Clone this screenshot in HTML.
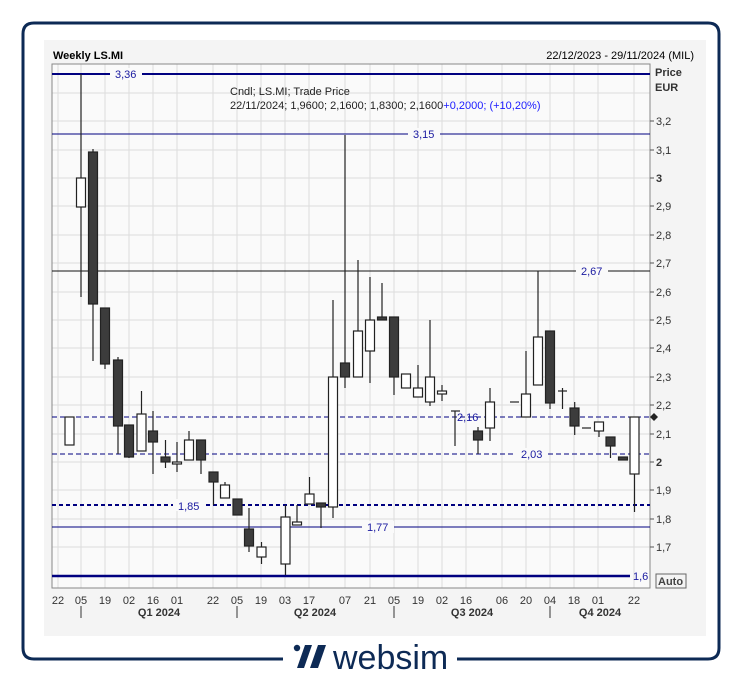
<!DOCTYPE html>
<html><head><meta charset="utf-8"><style>
html,body{margin:0;padding:0;background:#fff;}
svg{display:block;font-family:"Liberation Sans","DejaVu Sans",sans-serif;}
</style></head><body>
<svg width="742" height="681" viewBox="0 0 742 681" xmlns="http://www.w3.org/2000/svg">
<rect x="0" y="0" width="742" height="681" fill="#fff"/>
<!-- frame -->
<path d="M283 659 H34 Q23 659 23 648 V34 Q23 23 34 23 H708 Q719 23 719 34 V648 Q719 659 708 659 H457" fill="none" stroke="#0d2a55" stroke-width="3"/>
<!-- panel -->
<rect x="44" y="40" width="662" height="596" fill="#f4f4f4"/>
<rect x="52" y="64" width="598" height="524" fill="#fafafa"/>
<g stroke="#dcdcdc" stroke-width="1">
<line x1="52" y1="93" x2="650" y2="93"/><line x1="52" y1="121" x2="650" y2="121"/><line x1="52" y1="150" x2="650" y2="150"/><line x1="52" y1="178" x2="650" y2="178"/><line x1="52" y1="206" x2="650" y2="206"/><line x1="52" y1="235" x2="650" y2="235"/><line x1="52" y1="263" x2="650" y2="263"/><line x1="52" y1="292" x2="650" y2="292"/><line x1="52" y1="320" x2="650" y2="320"/><line x1="52" y1="348" x2="650" y2="348"/><line x1="52" y1="377" x2="650" y2="377"/><line x1="52" y1="405" x2="650" y2="405"/><line x1="52" y1="434" x2="650" y2="434"/><line x1="52" y1="462" x2="650" y2="462"/><line x1="52" y1="490" x2="650" y2="490"/><line x1="52" y1="519" x2="650" y2="519"/><line x1="52" y1="547" x2="650" y2="547"/>
<line x1="58" y1="64" x2="58" y2="588"/><line x1="81" y1="64" x2="81" y2="588"/><line x1="105" y1="64" x2="105" y2="588"/><line x1="129" y1="64" x2="129" y2="588"/><line x1="153" y1="64" x2="153" y2="588"/><line x1="177" y1="64" x2="177" y2="588"/><line x1="213" y1="64" x2="213" y2="588"/><line x1="237" y1="64" x2="237" y2="588"/><line x1="261" y1="64" x2="261" y2="588"/><line x1="285" y1="64" x2="285" y2="588"/><line x1="309" y1="64" x2="309" y2="588"/><line x1="345" y1="64" x2="345" y2="588"/><line x1="370" y1="64" x2="370" y2="588"/><line x1="394" y1="64" x2="394" y2="588"/><line x1="418" y1="64" x2="418" y2="588"/><line x1="442" y1="64" x2="442" y2="588"/><line x1="466" y1="64" x2="466" y2="588"/><line x1="502" y1="64" x2="502" y2="588"/><line x1="526" y1="64" x2="526" y2="588"/><line x1="550" y1="64" x2="550" y2="588"/><line x1="574" y1="64" x2="574" y2="588"/><line x1="598" y1="64" x2="598" y2="588"/><line x1="634" y1="64" x2="634" y2="588"/>
</g>
<rect x="52" y="64" width="598" height="524" fill="none" stroke="#888" stroke-width="1"/>
<!-- title -->
<text x="53" y="59" font-size="11" font-weight="bold" fill="#000">Weekly LS.MI</text>
<text x="694" y="59" font-size="11" fill="#000" text-anchor="end">22/12/2023 - 29/11/2024 (MIL)</text>
<text x="655" y="76" font-size="11" font-weight="bold" fill="#333">Price</text>
<text x="655" y="91" font-size="11" font-weight="bold" fill="#333">EUR</text>
<!-- y ticks -->
<g font-size="11" fill="#333" stroke="none">
<text x="656" y="125">3,2</text><text x="656" y="154">3,1</text><text x="656" y="182" font-weight="bold">3</text><text x="656" y="210">2,9</text><text x="656" y="239">2,8</text><text x="656" y="267">2,7</text><text x="656" y="296">2,6</text><text x="656" y="324">2,5</text><text x="656" y="352">2,4</text><text x="656" y="381">2,3</text><text x="656" y="409">2,2</text><text x="656" y="438">2,1</text><text x="656" y="466" font-weight="bold">2</text><text x="656" y="494">1,9</text><text x="656" y="523">1,8</text><text x="656" y="551">1,7</text>
</g>
<g stroke="#555"><line x1="650" y1="121" x2="654" y2="121"/><line x1="650" y1="150" x2="654" y2="150"/><line x1="650" y1="178" x2="654" y2="178"/><line x1="650" y1="206" x2="654" y2="206"/><line x1="650" y1="235" x2="654" y2="235"/><line x1="650" y1="263" x2="654" y2="263"/><line x1="650" y1="292" x2="654" y2="292"/><line x1="650" y1="320" x2="654" y2="320"/><line x1="650" y1="348" x2="654" y2="348"/><line x1="650" y1="377" x2="654" y2="377"/><line x1="650" y1="405" x2="654" y2="405"/><line x1="650" y1="434" x2="654" y2="434"/><line x1="650" y1="462" x2="654" y2="462"/><line x1="650" y1="490" x2="654" y2="490"/><line x1="650" y1="519" x2="654" y2="519"/><line x1="650" y1="547" x2="654" y2="547"/></g>
<rect x="656" y="574" width="30" height="14" fill="#f4f4f4" stroke="#666"/>
<text x="658" y="585" font-size="11" font-weight="bold" fill="#444">Auto</text>
<!-- x ticks -->
<g font-size="11" fill="#333" text-anchor="middle">
<text x="58" y="604">22</text><text x="81" y="604">05</text><text x="105" y="604">19</text><text x="129" y="604">02</text><text x="153" y="604">16</text><text x="177" y="604">01</text><text x="213" y="604">22</text><text x="237" y="604">05</text><text x="261" y="604">19</text><text x="285" y="604">03</text><text x="309" y="604">17</text><text x="345" y="604">07</text><text x="370" y="604">21</text><text x="394" y="604">05</text><text x="418" y="604">19</text><text x="442" y="604">02</text><text x="466" y="604">16</text><text x="502" y="604">06</text><text x="526" y="604">20</text><text x="550" y="604">04</text><text x="574" y="604">18</text><text x="598" y="604">01</text><text x="634" y="604">22</text>
<g font-weight="bold"><text x="159" y="616">Q1 2024</text><text x="315" y="616">Q2 2024</text><text x="472" y="616">Q3 2024</text><text x="600" y="616">Q4 2024</text></g>
</g>
<g stroke="#333"><line x1="81" y1="606" x2="81" y2="618"/><line x1="237" y1="606" x2="237" y2="618"/><line x1="394" y1="606" x2="394" y2="618"/><line x1="550" y1="606" x2="550" y2="618"/></g>
<!-- legend -->
<text x="230" y="95" font-size="11" fill="#222">Cndl; LS.MI; Trade Price</text>
<text x="230" y="109" font-size="11" fill="#222">22/11/2024; 1,9600; 2,1600; 1,8300; 2,1600<tspan fill="#1a1aff">+0,2000; (+10,20%)</tspan></text>
<!-- level lines -->
<line x1="52" y1="74" x2="650" y2="74" stroke="#000080" stroke-width="2"/>
<line x1="52" y1="134" x2="650" y2="134" stroke="#000080" stroke-width="1"/>
<line x1="52" y1="271" x2="650" y2="271" stroke="#111" stroke-width="1"/>
<line x1="52" y1="417" x2="650" y2="417" stroke="#000080" stroke-width="1" stroke-dasharray="5,3"/>
<line x1="52" y1="454" x2="650" y2="454" stroke="#000080" stroke-width="1" stroke-dasharray="5,3"/>
<line x1="52" y1="505" x2="650" y2="505" stroke="#000080" stroke-width="2" stroke-dasharray="4,3"/>
<line x1="52" y1="527" x2="650" y2="527" stroke="#000080" stroke-width="1"/>
<line x1="52" y1="576" x2="630" y2="576" stroke="#000080" stroke-width="2.5"/>
<path d="M654 413 L658 417 L654 421 L650 417 Z" fill="#222"/>
<!-- candles -->
<g stroke="#222" stroke-width="1.2" fill="#fff">
<line x1="81" y1="74" x2="81" y2="297"/><rect x="76.5" y="178" width="9" height="29"/>
<rect x="65" y="417" width="9" height="28"/>
<line x1="93" y1="149" x2="93" y2="361"/><rect x="88.5" y="152" width="9" height="152" fill="#3c3c3c"/>
<line x1="105" y1="308" x2="105" y2="369"/><rect x="100.5" y="308" width="9" height="56" fill="#3c3c3c"/>
<line x1="118" y1="357" x2="118" y2="454"/><rect x="113.5" y="360" width="9" height="66" fill="#3c3c3c"/>
<line x1="129" y1="425" x2="129" y2="458"/><rect x="124.5" y="425" width="9" height="32" fill="#3c3c3c"/>
<line x1="141.5" y1="391" x2="141.5" y2="451"/><rect x="137" y="414" width="9" height="37"/>
<line x1="153" y1="411" x2="153" y2="474"/><rect x="148.5" y="431" width="9" height="11" fill="#3c3c3c"/>
<line x1="165.5" y1="440" x2="165.5" y2="468"/><rect x="161" y="457" width="9" height="5" fill="#3c3c3c"/>
<line x1="177" y1="442" x2="177" y2="472"/><rect x="172.5" y="462" width="9" height="2"/>
<line x1="189" y1="431" x2="189" y2="460"/><rect x="184.5" y="440" width="9" height="20"/>
<line x1="201" y1="440" x2="201" y2="474"/><rect x="196.5" y="440" width="9" height="20" fill="#3c3c3c"/>
<line x1="213.5" y1="472" x2="213.5" y2="505"/><rect x="209" y="472" width="9" height="10" fill="#3c3c3c"/>
<line x1="225" y1="482" x2="225" y2="498"/><rect x="220.5" y="485" width="9" height="13"/>
<rect x="233" y="499" width="9" height="16" fill="#3c3c3c"/>
<line x1="249" y1="508" x2="249" y2="552"/><rect x="244.5" y="529" width="9" height="17" fill="#3c3c3c"/>
<line x1="261.5" y1="542" x2="261.5" y2="564"/><rect x="257" y="547" width="9" height="10"/>
<line x1="285.5" y1="505" x2="285.5" y2="575"/><rect x="281" y="517" width="9" height="47"/>
<line x1="297" y1="505" x2="297" y2="525"/><rect x="292.5" y="522" width="9" height="3"/>
<line x1="309.5" y1="477" x2="309.5" y2="504"/><rect x="305" y="494" width="9" height="10"/>
<line x1="321" y1="503" x2="321" y2="528"/><rect x="316.5" y="503" width="9" height="4" fill="#3c3c3c"/>
<line x1="333" y1="300" x2="333" y2="518"/><rect x="328.5" y="377" width="9" height="130"/>
<line x1="345" y1="135" x2="345" y2="388"/><rect x="340.5" y="363" width="9" height="14" fill="#3c3c3c"/>
<line x1="358" y1="260" x2="358" y2="377"/><rect x="353.5" y="331" width="9" height="46"/>
<line x1="370" y1="277" x2="370" y2="383"/><rect x="365.5" y="320" width="9" height="31"/>
<line x1="382" y1="283" x2="382" y2="320"/><rect x="377.5" y="317" width="9" height="3" fill="#3c3c3c"/>
<line x1="394" y1="317" x2="394" y2="395"/><rect x="389.5" y="317" width="9" height="60" fill="#3c3c3c"/>
<rect x="401.5" y="374" width="9" height="14"/>
<line x1="418" y1="365" x2="418" y2="397"/><rect x="413.5" y="388" width="9" height="9"/>
<line x1="430" y1="320" x2="430" y2="406"/><rect x="425.5" y="377" width="9" height="25"/>
<line x1="442" y1="385" x2="442" y2="401"/><rect x="437.5" y="391" width="9" height="3"/>
<line x1="455" y1="411" x2="455" y2="446"/><line x1="451" y1="411" x2="460" y2="411"/>
<line x1="478" y1="427" x2="478" y2="454"/><rect x="473.5" y="431" width="9" height="9" fill="#3c3c3c"/>
<line x1="490" y1="388" x2="490" y2="441"/><rect x="485.5" y="402" width="9" height="26"/>
<line x1="510" y1="402" x2="519" y2="402"/>
<line x1="526" y1="351" x2="526" y2="417"/><rect x="521.5" y="394" width="9" height="23"/>
<line x1="538" y1="271" x2="538" y2="385"/><rect x="533.5" y="337" width="9" height="48"/>
<line x1="550" y1="331" x2="550" y2="409"/><rect x="545.5" y="331" width="9" height="72" fill="#3c3c3c"/>
<line x1="562.5" y1="388" x2="562.5" y2="409"/><line x1="558" y1="391" x2="567" y2="391"/>
<line x1="574.7" y1="402" x2="574.7" y2="435"/><rect x="570" y="408" width="9" height="18" fill="#3c3c3c"/>
<line x1="582" y1="428" x2="591" y2="428"/>
<line x1="599" y1="422" x2="599" y2="437"/><rect x="594.5" y="422" width="9" height="9"/>
<line x1="610.5" y1="437" x2="610.5" y2="458"/><rect x="606" y="437" width="9" height="9" fill="#3c3c3c"/>
<rect x="618.5" y="457" width="9" height="3" fill="#3c3c3c"/>
<line x1="634.5" y1="417" x2="634.5" y2="512"/><rect x="630" y="417" width="9" height="57"/>
</g>
<!-- level labels -->
<g font-size="11" fill="#1a1aa0">
<rect x="110" y="68" width="32" height="12" fill="#fafafa"/><text x="115" y="78">3,36</text>
<rect x="408" y="128" width="32" height="12" fill="#fafafa"/><text x="413" y="138">3,15</text>
<rect x="576" y="265" width="32" height="12" fill="#fafafa"/><text x="581" y="275">2,67</text>
<text x="457" y="421">2,16</text>
<rect x="516" y="448" width="32" height="12" fill="#fafafa"/><text x="521" y="458">2,03</text>
<rect x="173" y="499" width="32" height="12" fill="#fafafa"/><text x="178" y="510">1,85</text>
<rect x="362" y="521" width="32" height="12" fill="#fafafa"/><text x="367" y="531">1,77</text>
<text x="633" y="580">1,6</text>
</g>
<!-- logo -->
<circle cx="297" cy="648" r="3.2" fill="#0d2a55"/>
<path d="M305 645 L312 645 L304 668 L297 668 Z" fill="#0d2a55"/>
<path d="M318 645 L326 645 L318 668 L310 668 Z" fill="#0d2a55"/>
<text x="333" y="669" font-size="34" fill="#0d2a55" font-family="Liberation Sans, sans-serif">websim</text>
</svg>
</body></html>
